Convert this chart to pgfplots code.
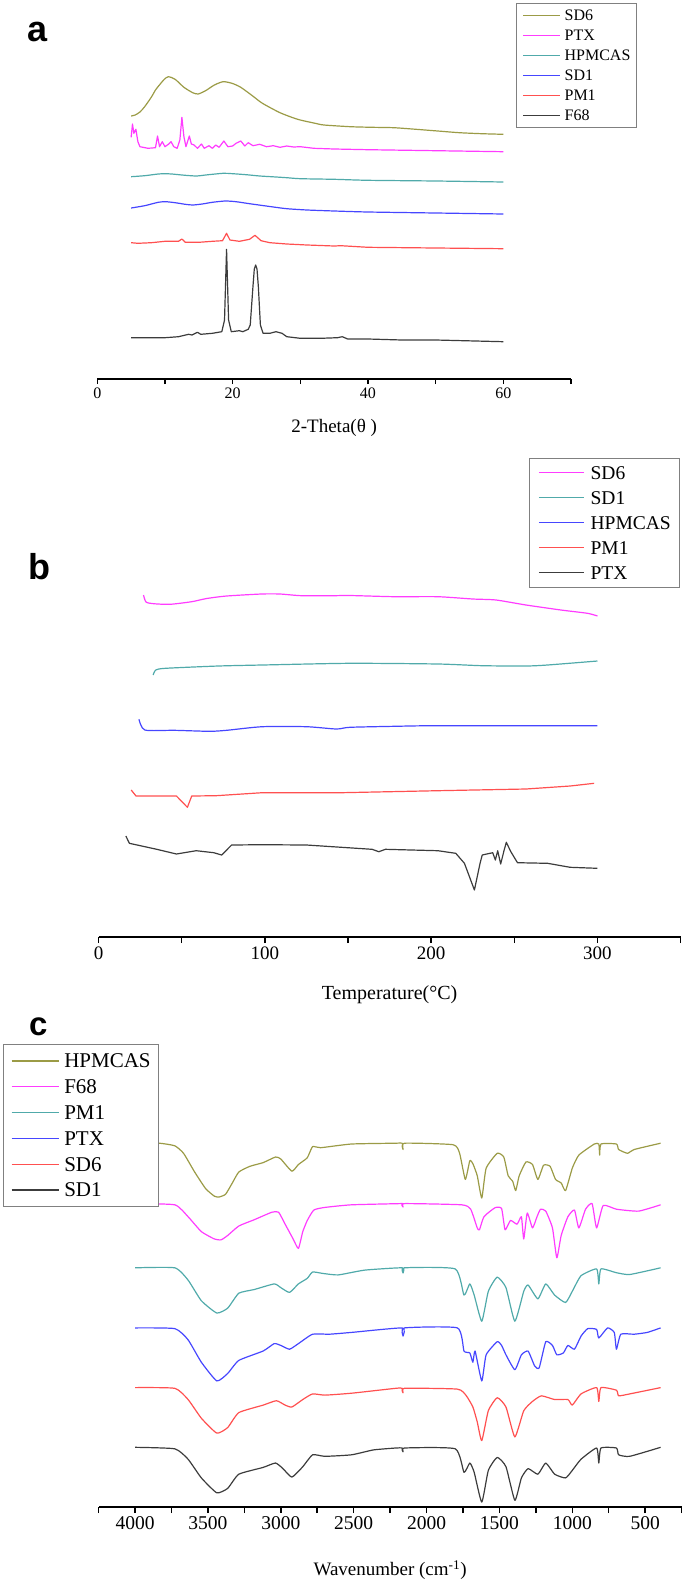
\documentclass[border=0pt]{standalone}
\usepackage{fontspec}
\setmainfont{Liberation Serif}
\newfontfamily\labfont{Liberation Sans}
\usepackage{pgfplots}
\pgfplotsset{compat=1.18}
\definecolor{cOlive}{RGB}{155,155,70}
\definecolor{cMag}{RGB}{255,60,255}
\definecolor{cTeal}{RGB}{80,170,170}
\definecolor{cBlue}{RGB}{70,70,255}
\definecolor{cRed}{RGB}{255,80,80}
\definecolor{cBlk}{RGB}{60,60,60}
\pgfplotsset{
  panel/.style={
    scale only axis,
    axis x line=bottom,
    axis y line=none,
    x axis line style={-, line width=1.5pt},
    ymin=0,
    enlargelimits=false,
    clip=false,
    tick align=outside,
    major tick length=6pt,
    minor tick length=6pt,
    tick style={black, line width=1.5pt},
    /pgf/number format/assume math mode=true,
    /pgf/number format/1000 sep={},
    legend cell align=left,
    every axis plot/.append style={line width=1.2pt, line join=round},
  }
}
\begin{document}
\begin{tikzpicture}
\path[use as bounding box] (0,0) rectangle (685pt,-1582pt);
\node[font=\labfont\bfseries\fontsize{36}{36}\selectfont] at (38pt,-32pt) {a};
\node[font=\labfont\bfseries\fontsize{36}{36}\selectfont] at (39.5pt,-566.7pt) {b};
\node[font=\labfont\bfseries\fontsize{33}{33}\selectfont] at (38.3pt,-1026.7pt) {c};

% ---------------- panel a ----------------
\begin{axis}[panel, at={(97.3pt,-379pt)}, anchor=south west,
  width=473.7pt, height=370pt, xmin=0, xmax=70, ymax=370,
  xtick={0,20,40,60}, minor xtick={10,30,50,70},
  major tick length=5pt, minor tick length=5pt,
  xticklabel style={font=\fontsize{16}{16}\selectfont},
  xlabel={2-Theta(θ\ )},
  xlabel style={font=\fontsize{19}{19}\selectfont, at={(axis description cs:0.5,-0.1324)}, anchor=center},
  legend style={at={(axis description cs:0.8839,1.0162)}, anchor=north west, draw=gray, line width=0.8pt,
    font=\fontsize{16}{16}\selectfont, inner xsep=6pt, inner ysep=2pt, column sep=4pt, row sep=0pt,
    nodes={inner sep=0pt, text height=15.3pt, text depth=4.7pt}},
  legend image code/.code={\draw[#1] (0pt,0pt) -- (37pt,0pt);},
]
\addplot[cOlive, smooth, tension=0.4] coordinates {(5,263) (5.6,264) (6.3,267) (7,272.3) (8,282) (8.6,289) (9.3,295) (9.9,299.7) (10.5,302.3) (11.5,299.7) (12.8,291.7) (14.1,286.3) (14.9,285) (16,288.3) (17.3,294) (18.6,297.3) (19.9,295.7) (21.2,291.7) (23.1,282.3) (24.4,275.7) (27,266.3) (29.6,259.7) (32.2,255.7) (33.5,254) (37.4,252.3) (40.6,251.7) (43.8,251.3) (47.1,249.7) (50.3,248) (53.5,246.3) (56.8,245.3) (60,244.7)};
\addlegendentry{SD6}
\addplot[cMag] coordinates {(5.0,241.7)(5.2,255)(5.4,245.7)(5.7,249.7)(6.0,237.3)(6.3,232.3)(7.5,230.7)(8.6,231.3)(8.9,243)(9.2,232.3)(9.6,237.3)(10.0,232.3)(10.5,234.7)(10.9,237.3)(11.3,232.3)(11.8,230.7)(12.2,239)(12.5,261.7)(12.8,242.3)(13.1,232.3)(13.6,243)(13.9,235)(14.3,234)(14.8,230.7)(15.4,235)(15.8,230.7)(16.5,233.3)(17.0,230.7)(17.5,234)(18.0,231.7)(18.7,238)(19.3,232.3)(20,233)(20.5,235.7)(21.2,238)(21.8,233)(22.3,236.3)(23,233.3)(24,234.7)(25,232.3)(26,233.3)(27,231.7)(28,233)(29,232)(30,232.3)(32,230.7)(35,230)(40,229.3)(50,228.3)(60,227.3)};
\addlegendentry{PTX}
\addplot[cTeal, smooth, tension=0.4] coordinates {(5,202.3)(7,203.3)(9,205)(10,205.3)(11,205)(13,203.7)(14.7,203)(16,204)(18.6,205.7)(20,205.3)(22,204.3)(24,203)(25.7,202.3)(28,201.3)(30,200.3)(35,199.7)(40,198.7)(50,198)(60,197)};
\addlegendentry{HPMCAS}
\addplot[cBlue, smooth, tension=0.4] coordinates {(5,171)(7,173.3)(9,176.7)(10.1,177.3)(11.5,176.3)(13,174.7)(14.1,174)(15.5,175)(17,176.7)(18.9,178)(20.5,177.3)(22.5,175.3)(25.7,172.3)(28,170.3)(31,169)(35,168)(40,167)(50,166)(60,165)};
\addlegendentry{SD1}
\addplot[cRed] coordinates {(5,136.3)(6,135.7)(8,136.3)(10,137.7)(12,137.7)(12.5,140)(13,136.7)(15,136.7)(17,137.7)(18.5,138.3)(19.1,145.7)(19.6,139)(21,137.7)(22.5,139.7)(23.3,143.7)(24.2,138.3)(25.5,136.3)(28,135)(31,134)(35,133)(36,133.3)(40,131.7)(50,131)(60,130.3)};
\addlegendentry{PM1}
\addplot[cBlk] coordinates {(5,41.3)(10,41.3)(12,42.3)(13.5,44.7)(14,44)(14.8,46.7)(15.3,44.7)(17,45.7)(18.4,47.3)(18.8,59)(19.1,129.7)(19.4,59)(19.8,47.3)(21,48.3)(21.5,47.3)(22.3,49.7)(22.6,54)(23.0,92.3)(23.2,110)(23.4,114)(23.6,110)(23.8,92.3)(24.1,54)(24.5,45.7)(25.5,45.7)(26.4,47.3)(27.3,45.7)(28,42.3)(30,40.7)(33,40.7)(35.5,41.3)(36.2,42.3)(37,40)(40,40)(45,39)(50,39)(60,37.3)};
\addlegendentry{F68}
\end{axis}

% ---------------- panel b ----------------
\begin{axis}[panel, at={(98.6pt,-937pt)}, anchor=south west,
  width=582pt, height=487pt, xmin=0, xmax=350, ymax=487,
  xtick={0,100,200,300}, minor xtick={50,150,250,350},
  xticklabel style={font=\fontsize{19}{19}\selectfont},
  xlabel={Temperature(°C)},
  xlabel style={font=\fontsize{20}{20}\selectfont, at={(axis description cs:0.5,-0.1191)}, anchor=center},
  legend style={at={(axis description cs:0.7395,0.9836)}, anchor=north west, draw=gray, line width=0.8pt,
    font=\fontsize{19.5}{19.5}\selectfont, inner xsep=9pt, inner ysep=2pt, column sep=6pt, row sep=0pt,
    nodes={inner sep=0pt, text height=18.95pt, text depth=6.05pt}},
  legend image code/.code={\draw[#1] (0pt,0pt) -- (45pt,0pt);},
]
\addplot[cMag, smooth, tension=0.4] coordinates {(27,342)(28.5,335)(33,333.3)(43,332.7)(56,335.3)(65,338.5)(77,341)(98,343)(109,343)(122,341.3)(141,341.3)(151,341.5)(178,340.3)(204,340.3)(225,338)(239,337)(257,332)(278,327)(294,323.7)(300,321)};
\addlegendentry{SD6}
\addplot[cTeal, smooth, tension=0.4] coordinates {(32.8,262)(34.4,267)(40.2,268.7)(72,271)(98.4,272)(151,273.7)(204,273)(230.7,271.3)(257,271)(270,272)(300,276)};
\addlegendentry{SD1}
\addplot[cBlue, smooth, tension=0.4] coordinates {(24.3,217.7)(27.8,207)(45.5,206.7)(66.7,205.7)(77,206.7)(98.4,210.3)(125,210.3)(143,208)(151,209.7)(178,210.7)(204,211.3)(300,211.3)};
\addlegendentry{HPMCAS}
\addplot[cRed] coordinates {(19.6,147)(22.5,141)(46.8,141)(53.4,129.7)(56,141)(70.6,141.3)(98.4,144.3)(146,144.3)(204,146.3)(257,148)(283.6,151)(298,153.7)};
\addlegendentry{PM1}
\addplot[cBlk] coordinates {(16.4,101)(18.5,93.7)(35,87.7)(46.8,83)(58.7,86.3)(69.3,84.3)(74,82)(80,92)(98.4,92.3)(125,92)(164.5,87.7)(168.5,85.3)(172.5,87.7)(204,86.3)(214.8,83.7)(220,73.7)(226,47)(229.4,73.7)(230.7,82)(237,84.3)(238.6,77)(240,86.3)(241.8,73)(243.9,87)(245.2,94.7)(247.9,85.3)(251.9,74.3)(270,73.7)(283.6,69.7)(300,68.7)};
\addlegendentry{PTX}
\end{axis}

% ---------------- panel c ----------------
\begin{axis}[panel, at={(98.6pt,-1507pt)}, anchor=south west,
  width=583pt, height=467pt, xmin=250, xmax=4250, x dir=reverse, ymax=467,
  xtick={500,1000,...,4000}, minor xtick={250,750,...,4250},
  xticklabel style={font=\fontsize{19.5}{19.5}\selectfont},
  xlabel={Wavenumber (cm\textsuperscript{-1})},
  xlabel style={font=\fontsize{19}{19}\selectfont, at={(axis description cs:0.5,-0.1349)}, anchor=center},
  legend style={at={(axis description cs:-0.1645,0.9914)}, anchor=north west, draw=gray, line width=0.8pt,
    font=\fontsize{21}{21}\selectfont, inner xsep=8pt, inner ysep=3.6pt, column sep=5pt, row sep=0pt,
    nodes={inner sep=0pt, text height=19.85pt, text depth=5.95pt}},
  legend image code/.code={\draw[#1] (0pt,0pt) -- (47pt,0pt);},
  every axis plot/.append style={smooth, tension=0.3},
]
\addplot[cOlive] coordinates {(4000,363.8)(3833,363.8)(3727,361.2)(3667,353.7)(3591,335)(3515,318.3)(3455,310.8)(3424,310)(3379,312.7)(3333,323.9)(3288,335)(3212,340.7)(3121,344.4)(3036,350)(3000,348)(2924,335.8)(2879,342.5)(2818,349.3)(2782,360.4)(2727,359.3)(2515,363)(2212,363.8)(2167,363.8)(2161,357.5)(2152,363.8)(1818,362.3)(1773,353.7)(1734,327.6)(1703,346.3)(1682,343.3)(1652,331.3)(1621,309)(1591,338.8)(1515,353.7)(1470,350)(1440,331.3)(1409,325.7)(1388,316.4)(1364,331.3)(1318,345)(1273,342.5)(1236,327.6)(1197,341.8)(1152,340.7)(1115,327.6)(1076,324)(1046,316.4)(1000,338.8)(955,351.9)(849,363)(818,363)(812,351.9)(803,363)(697,363)(682,357.5)(621,353.7)(576,357.5)(394,363.8)};
\addlegendentry{HPMCAS}
\addplot[cMag] coordinates {(4000,303.4)(3727,302.2)(3636,290.3)(3545,275.4)(3455,268)(3409,267.2)(3364,271.6)(3288,281)(3182,287.3)(3061,294.8)(3015,294.8)(2970,282.8)(2915,268)(2879,258.6)(2849,275.4)(2818,286.6)(2773,297)(2697,299.6)(2515,302.2)(2182,303.4)(2167,303.4)(2161,300)(2152,303.4)(1758,302.2)(1697,297.8)(1652,279.1)(1637,277.2)(1606,290.3)(1530,299.3)(1485,298.5)(1461,277.2)(1424,286.6)(1379,282.8)(1349,290.3)(1333,268)(1309,294)(1273,279.1)(1242,290.3)(1218,297.8)(1182,295.9)(1136,279.1)(1106,249.2)(1076,271.6)(1030,290.3)(985,297)(955,279.1)(909,297.8)(864,303.4)(833,279.1)(788,301.5)(697,297.8)(545,295.9)(394,302.2)};
\addlegendentry{F68}
\addplot[cTeal] coordinates {(4000,239.2)(3727,239.2)(3636,226.9)(3545,206.3)(3439,194)(3364,198.9)(3288,213.8)(3182,217.5)(3045,223.1)(3000,219.4)(2940,214.6)(2879,223.1)(2818,228.7)(2782,235)(2712,233.6)(2606,232.1)(2424,236.9)(2167,239.2)(2161,234)(2152,239.2)(1803,238.1)(1743,211.9)(1703,223.1)(1673,211.9)(1621,185.8)(1576,215.7)(1515,229.9)(1455,219.4)(1394,185.8)(1333,215.7)(1303,222)(1236,208.2)(1182,223.1)(1121,211.9)(1046,204.5)(1000,215.7)(940,231.3)(833,238.1)(818,223.1)(803,238.1)(697,234.3)(606,232.5)(394,239.2)};
\addlegendentry{PM1}
\addplot[cBlue] coordinates {(4000,179.1)(3727,178.4)(3636,167.2)(3545,144.8)(3439,126.1)(3364,133.6)(3288,146.6)(3121,156)(3045,163.4)(3000,161.6)(2940,157.8)(2879,163.4)(2782,172.8)(2667,172.8)(2515,174.6)(2167,179.1)(2161,170.9)(2152,179.1)(1788,179.1)(1743,156)(1703,154.1)(1682,144.8)(1667,156)(1621,126.1)(1591,152.2)(1515,165.3)(1485,161.6)(1455,152.2)(1394,137.3)(1349,152.2)(1303,155.9)(1258,141)(1227,139.2)(1182,165.3)(1136,161.6)(1106,152.2)(1061,154.1)(1030,161.6)(985,157.8)(940,170.9)(894,178.4)(833,177.6)(818,169)(758,179.1)(712,174.6)(697,157.8)(667,172.8)(576,172.8)(485,174.6)(394,179.1)};
\addlegendentry{PTX}
\addplot[cRed] coordinates {(4000,119.4)(3727,118.7)(3636,107.5)(3545,88.8)(3439,73.9)(3364,79.5)(3288,94.4)(3121,101.9)(3030,106.3)(2970,101.9)(2924,100)(2849,107.5)(2782,113.1)(2697,111.9)(2515,113.8)(2212,118.7)(2167,118.7)(2161,114.2)(2152,118.7)(1788,117.9)(1727,111.2)(1682,100)(1652,85.1)(1621,66.4)(1576,96.3)(1515,109.3)(1455,100)(1394,70.1)(1333,96.3)(1273,105.6)(1212,111.2)(1121,107.5)(1030,107.5)(1000,101.9)(940,113.1)(833,119.4)(818,105.6)(803,119.4)(697,116.8)(682,111.2)(606,113.1)(394,119.4)};
\addlegendentry{SD6}
\addplot[cBlk] coordinates {(4000,59.7)(3727,58.2)(3636,47.8)(3545,29.1)(3439,14.2)(3364,18.7)(3288,32.8)(3121,39.6)(3036,44)(2985,38.4)(2924,29.9)(2849,40.3)(2782,52.2)(2697,50.7)(2515,52.2)(2364,57.1)(2212,59)(2167,59)(2161,55.2)(2152,59)(1803,58.2)(1743,34.7)(1703,44)(1673,34.7)(1621,4.9)(1576,36.6)(1515,49.6)(1455,40.3)(1394,6.7)(1349,29.1)(1303,38.4)(1236,32.8)(1182,44)(1121,32.8)(1046,29.1)(1000,36.6)(940,47.8)(833,59)(818,44)(803,59)(697,59)(682,52.2)(606,50.7)(394,59.7)};
\addlegendentry{SD1}
\end{axis}
\end{tikzpicture}
\end{document}
